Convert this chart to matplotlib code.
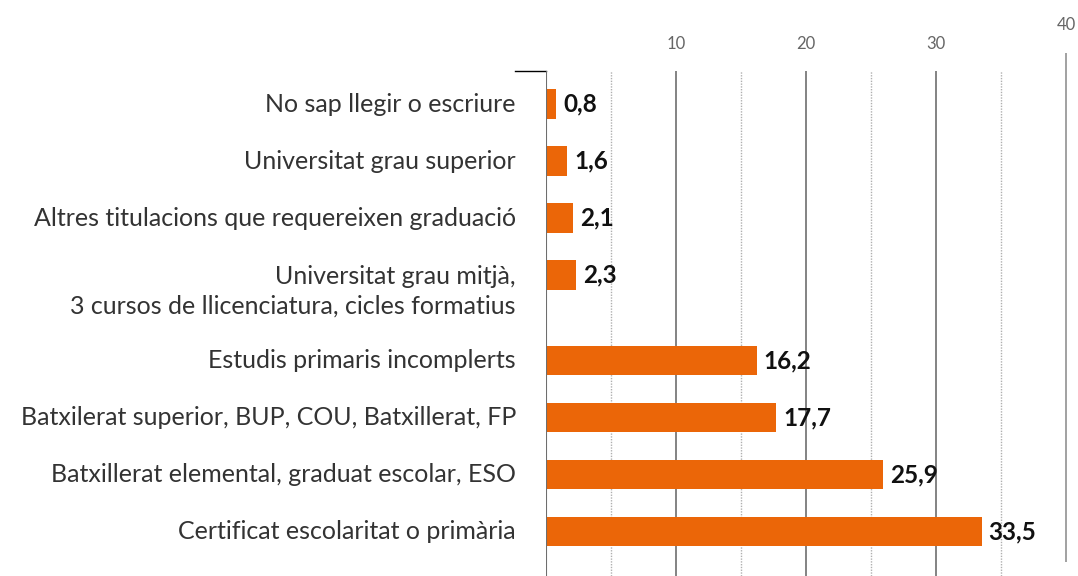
import matplotlib.pyplot as plt
import matplotlib.transforms as mtransforms
import numpy as np

# dades (%)
categories = [
    'No sap llegir o escriure',
    'Universitat grau superior',
    'Altres titulacions que requereixen graduació',
    'Universitat grau mitjà,\n3 cursos de llicenciatura, cicles formatius',
    'Estudis primaris incomplerts',
    'Batxilerat superior, BUP, COU, Batxillerat, FP',
    'Batxillerat elemental, graduat escolar, ESO',
    'Certificat escolaritat o primària',
]
values = [0.8, 1.6, 2.1, 2.3, 16.2, 17.7, 25.9, 33.5]
value_labels = ['0,8', '1,6', '2,1', '2,3', '16,2', '17,7', '25,9', '33,5']
major_ticks = [10, 20, 30]
minor_ticks = [5, 15, 25, 35]

plt.rcParams['font.family'] = ['Lato', 'DejaVu Sans']

fig = plt.figure(figsize=(10.78, 5.76), dpi=100)
ax = fig.add_axes([546/1078, 0, 520/1078, 1 - 71/576])

# posicions: espai extra despres de l'etiqueta de dues linies
idx = np.arange(len(values))
ypos = idx + np.where(idx >= 4, 0.5, 0.0)

ax.set_xlim(0, 40)
ax.set_ylim(8.28, -0.58)

# graella
for x in minor_ticks:
    ax.axvline(x, color='#b0b0b0', lw=1, ls=(0, (1, 1)), zorder=0)
for x in major_ticks:
    ax.axvline(x, color='#7a7a7a', lw=1.3, zorder=0)
ax.vlines(40, -0.895, 8.03, color='#9a9a9a', lw=1.3, clip_on=False, zorder=0)
ax.axvline(0, color='#6e6e6e', lw=1.5, zorder=3)
ax.plot([-2.4, 0], [-0.58, -0.58], color='black', lw=1, clip_on=False)

ax.barh(ypos, values, height=0.52, color='#eb6608', zorder=2)

for y, v, lab in zip(ypos, values, value_labels):
    ax.text(v + 0.55, y, lab, va='center', ha='left', fontsize=17.5,
            fontweight='bold', color='#111111')

# etiquetes de categoria (la primera linia alineada amb la barra)
ax.set_yticks([])
for y, cat in zip(ypos, categories):
    nlines = cat.count('\n') + 1
    shift = mtransforms.ScaledTranslation(-30/100, -(nlines - 1) * 16/100,
                                          fig.dpi_scale_trans)
    ax.text(0, y, cat, ha='right', va='center', fontsize=18, color='#333333',
            linespacing=1.35, transform=ax.transData + shift, clip_on=False)

ax.xaxis.tick_top()
ax.set_xticks(major_ticks)
ax.set_xticklabels([str(t) for t in major_ticks], fontsize=12, color='#666666')
ax.tick_params(axis='x', length=0, pad=13.5)
ax.text(40, -1.39, '40', ha='center', va='center', fontsize=12,
        color='#666666', clip_on=False)

for s in ax.spines.values():
    s.set_visible(False)

fig.savefig('out.png', dpi=100)
